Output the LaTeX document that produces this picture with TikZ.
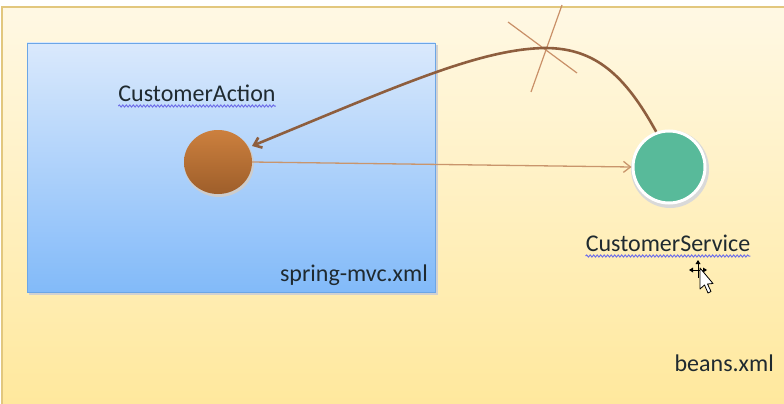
\documentclass[tikz,border=0pt]{standalone}
\usepackage{fontspec}
\setmainfont{Carlito}
\usetikzlibrary{arrows.meta,decorations.pathmorphing,shapes.geometric,calc}
\definecolor{bgtop}{HTML}{FFF8E4}
\definecolor{bgbot}{HTML}{FFE89C}
\definecolor{bgline}{HTML}{E2C77E}
\definecolor{bluetop}{HTML}{DAE9FC}
\definecolor{bluebot}{HTML}{82BAF9}
\definecolor{blueline}{HTML}{6CA6E6}
\definecolor{orgtop}{HTML}{CC803E}
\definecolor{orgbot}{HTML}{9E5E2A}
\definecolor{greenfill}{HTML}{58BA9A}
\definecolor{thinarrow}{HTML}{C9956C}
\definecolor{curvecol}{HTML}{8E5E3E}
\definecolor{xcol}{HTML}{C99068}
\definecolor{txt}{HTML}{1F2A30}
\definecolor{wavy}{HTML}{6E6EE8}
\tikzset{
  lbl/.style={font=\fontsize{24}{26}\selectfont, text=txt, inner sep=0pt},
  squiggle/.style={wavy, line width=1pt, decorate, decoration={snake, amplitude=1pt, segment length=3.5pt}},
  tip/.style={-{Straight Barb[length=7pt,width=11pt]}}
}
\begin{document}
\begin{tikzpicture}[x=1pt,y=-1pt]
\useasboundingbox (0,0) rectangle (784,404);
\fill[white] (0,0) rectangle (784,404);
% beans.xml background
\shade[top color=bgtop, bottom color=bgbot] (2,7) rectangle (790,410);
\draw[bgline, line width=1.5pt] (2,410) -- (2,7) -- (790,7);
% spring-mvc box
\fill[black!18] (29,45) rectangle (438,295);
\shade[top color=bluetop, bottom color=bluebot, draw=blueline, line width=0.8pt] (27,43) rectangle (435,292);
% X mark
\coordinate (x1a) at (508,22);
\coordinate (x1b) at (577,73);
\coordinate (x2a) at (562,5);
\coordinate (x2b) at (531,92);
\draw[xcol, line width=1.2pt] (x1a) -- (x1b);
\draw[xcol, line width=1.2pt] (x2a) -- (x2b);
% circles
\fill[black!20] (219,164) ellipse (35 and 33);
\shade[top color=orgtop, bottom color=orgbot] (218,162) ellipse (34 and 32);
\node[coordinate] (act) at (218,162) {};
\fill[black!15] (670,169) circle (39);
\node[circle, minimum size=72pt, fill=greenfill, draw=white, line width=3pt, inner sep=0pt] (svc) at (669,167) {};
% connectors
\draw[thinarrow, line width=1.3pt, tip] ([xshift=34pt]act) -- (svc.west);
\draw[curvecol, line width=2.6pt, tip] (svc.110) .. controls (625,75) and (595,48) .. (545,48)
   .. controls (480,49) and (400,85) .. ([xshift=34pt,yshift=16pt]act);
% labels
\node[lbl, anchor=base] (lact) at (197,101) {CustomerAction};
\draw[squiggle] ([yshift=-5pt]lact.base west) -- ([yshift=-5pt]lact.base east);
\node[lbl, anchor=base] (lsvc) at (668,251) {CustomerService};
\draw[squiggle] ([yshift=-5pt]lsvc.base west) -- ([yshift=-5pt]lsvc.base east);
\node[lbl, anchor=base east] (lmvc) at (428,281) {spring-mvc.xml};
\node[lbl, anchor=base east] (lbeans) at (774,371) {beans.xml};
% cursor
\coordinate (cur) at (698,270);
\draw[black, line width=1pt] ($(cur)+(-7,0)$) -- ($(cur)+(7,0)$);
\draw[black, line width=1pt] ($(cur)+(0,-8)$) -- ($(cur)+(0,8)$);
\fill[black] ($(cur)+(-9,0)$) -- ($(cur)+(-5,-2.5)$) -- ($(cur)+(-5,2.5)$) -- cycle;
\fill[black] ($(cur)+(9,0)$) -- ($(cur)+(5,-2.5)$) -- ($(cur)+(5,2.5)$) -- cycle;
\fill[black] ($(cur)+(0,-10)$) -- ($(cur)+(-2.5,-6)$) -- ($(cur)+(2.5,-6)$) -- cycle;
\draw[black, fill=white, line width=0.8pt, line join=round] (700,268) -- (700,289) -- (704.5,285) -- (708,293) -- (711,291.5) -- (707.5,284) -- (713,283.5) -- cycle;
\end{tikzpicture}
\end{document}
